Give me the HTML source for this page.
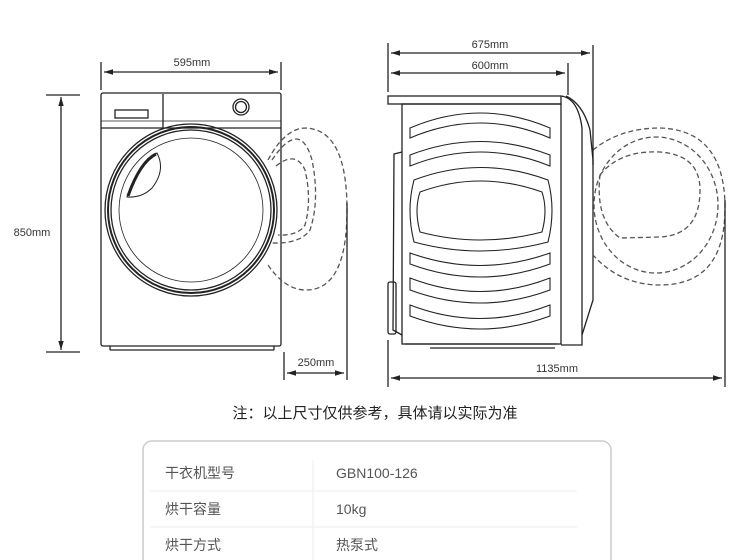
<!DOCTYPE html>
<html><head><meta charset="utf-8"><style>
body{margin:0;background:#fff;}
svg{display:block}
text{font-family:"Liberation Sans","Noto Sans CJK SC",sans-serif;}
</style></head><body>
<svg width="750" height="560" viewBox="0 0 750 560" xmlns="http://www.w3.org/2000/svg">
<defs>
<marker id="a" viewBox="0 0 10 10" refX="10" refY="5" markerWidth="7" markerHeight="7" orient="auto-start-reverse"><path d="M0,2 L10,5 L0,8 z" fill="#222"/></marker>
</defs>
<g stroke="#222" fill="none" stroke-width="1.3">
<!-- front view -->
<rect x="101" y="93" width="180" height="253" rx="2"/>
<line x1="101" y1="128" x2="281" y2="128"/>
<line x1="101" y1="121" x2="281" y2="121" stroke-width="0.7"/>
<line x1="163" y1="94" x2="163" y2="128"/>
<rect x="115" y="110" width="33" height="8"/>
<circle cx="241" cy="107" r="8"/><circle cx="241" cy="107" r="5.5"/>
<line x1="110" y1="346" x2="110" y2="350"/><line x1="274" y1="346" x2="274" y2="350"/><line x1="110" y1="350" x2="274" y2="350"/>
<circle cx="191" cy="210" r="86"/><circle cx="191" cy="210" r="83" stroke-width="2"/><circle cx="191" cy="210" r="80"/>
<circle cx="191" cy="210" r="72" stroke-width="0.8"/>
<path d="M127,197 Q140,160 157,153 Q166,170 152,188 Q142,198 127,197 Z" stroke-width="1"/>
<path d="M128,196 Q140,162 156,154" stroke-width="3"/>
<g stroke-dasharray="5,3" stroke="#555">
<path d="M268,160 Q285,128 306,128 Q347,130 347,210 Q347,290 306,290 Q285,290 268,265"/>
<path d="M272,160 Q300,118 312,160 Q320,200 310,230 Q300,244 272,243"/>
<path d="M276,166 Q296,150 305,170 Q312,200 305,225 Q298,236 278,235"/>
</g>
<!-- front dims -->
<line x1="101" y1="62" x2="101" y2="90"/><line x1="281" y1="62" x2="281" y2="90"/>
<line x1="104" y1="72" x2="278" y2="72" marker-start="url(#a)" marker-end="url(#a)"/>
<line x1="46" y1="95" x2="80" y2="95"/><line x1="46" y1="352" x2="80" y2="352"/>
<line x1="61" y1="97" x2="61" y2="350" marker-start="url(#a)" marker-end="url(#a)"/>
<line x1="284" y1="352" x2="284" y2="380"/><line x1="347" y1="203" x2="347" y2="380"/>
<line x1="287" y1="373" x2="344" y2="373" marker-start="url(#a)" marker-end="url(#a)"/>
<!-- side view -->
<rect x="388" y="96" width="173" height="8"/>
<rect x="402" y="104" width="159" height="240"/>
<path d="M561,96 Q578,98 582,128 L582,345 L561,345"/>
<path d="M566,96 Q583,104 590,130 L593,160 L593,300 L582,335"/>
<path d="M402,152 L394,154 L393,330 L402,335"/>
<rect x="388" y="282" width="8" height="52" rx="2"/>
<line x1="405" y1="344" x2="557" y2="344"/><line x1="430" y1="348" x2="555" y2="348"/>
<g stroke-width="1.1">
<path d="M410,128 Q480,98 550,128 L550,138 Q480,108 410,138 Z"/>
<path d="M410,155 Q480,128 550,155 L550,166 Q480,138 410,166 Z"/>
<path d="M414,180 Q480,155 548,180 Q556,210 548,242 Q480,260 414,242 Q406,210 414,180 Z"/>
<path d="M420,192 Q480,170 542,192 Q548,210 542,232 Q480,248 420,232 Q414,210 420,192 Z"/>
<path d="M410,253 Q480,278 550,253 L550,264 Q480,290 410,264 Z"/>
<path d="M410,278 Q480,305 550,278 L550,290 Q480,316 410,290 Z"/>
<path d="M410,305 Q480,332 550,305 L550,316 Q480,342 410,316 Z"/>
</g>
<g stroke-dasharray="5,3" stroke="#555">
<path d="M593,150 Q620,128 660,128 Q725,130 725,208 Q725,285 660,285 Q620,285 593,255"/>
<ellipse cx="656" cy="205" rx="62" ry="68"/>
<path d="M600,175 Q620,150 660,152 Q700,155 700,190 Q700,235 660,237 L620,238 Q595,220 600,175 Z"/>
</g>
<!-- side dims -->
<line x1="388" y1="43" x2="388" y2="92"/><line x1="593" y1="45" x2="593" y2="165"/><line x1="568" y1="63" x2="568" y2="95"/>
<line x1="391" y1="53" x2="590" y2="53" marker-start="url(#a)" marker-end="url(#a)"/>
<line x1="391" y1="73" x2="565" y2="73" marker-start="url(#a)" marker-end="url(#a)"/>
<line x1="388" y1="340" x2="388" y2="387"/><line x1="725" y1="200" x2="725" y2="387"/>
<line x1="391" y1="378" x2="722" y2="378" marker-start="url(#a)" marker-end="url(#a)"/>
</g>
<g font-size="11" fill="#333" text-anchor="middle">
<text x="192" y="66">595mm</text>
<text x="32" y="236">850mm</text>
<text x="316" y="366">250mm</text>
<text x="490" y="48">675mm</text>
<text x="490" y="69">600mm</text>
<text x="557" y="372">1135mm</text>
</g>
<text x="375" y="418" font-size="15" fill="#222" text-anchor="middle">注：以上尺寸仅供参考，具体请以实际为准</text>
<rect x="143" y="441" width="468" height="140" rx="9" fill="none" stroke="#ccc" stroke-width="1.5"/>
<g stroke="#eee" stroke-width="1"><line x1="150" y1="491" x2="577" y2="491"/><line x1="150" y1="527" x2="577" y2="527"/><line x1="313" y1="460" x2="313" y2="560"/></g>
<g font-size="14" fill="#555">
<text x="165" y="478">干衣机型号</text><text x="336" y="478">GBN100-126</text>
<text x="165" y="514">烘干容量</text><text x="336" y="514">10kg</text>
<text x="165" y="550">烘干方式</text><text x="336" y="550">热泵式</text>
</g>
</svg>
</body></html>
